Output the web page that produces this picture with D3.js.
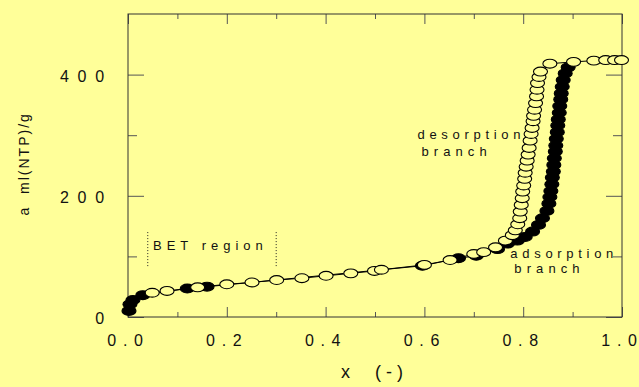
<!DOCTYPE html>
<html>
<head>
<meta charset="utf-8">
<script src="https://cdn.jsdelivr.net/npm/d3@7"></script>
<style>
  body { margin: 0; background: #ffff99; }
  svg { display: block; font-family: "Liberation Sans", Arial, sans-serif; }
</style>
</head>
<body>
<div id="chart"></div>
<script>
// adsorption branch (filled markers)
var adsX = [0.002, 0.004, 0.010, 0.030, 0.120, 0.160, 0.596, 0.669, 0.705, 0.748, 0.768, 0.788, 0.804, 0.819, 0.831,
            0.839, 0.848, 0.852, 0.854, 0.856, 0.858, 0.859, 0.861, 0.862, 0.863, 0.865, 0.866, 0.867, 0.869, 0.870,
            0.871, 0.873, 0.874, 0.876, 0.877, 0.879, 0.881, 0.885, 0.891];
var adsA = [10, 21, 28, 36, 47, 50, 84.5, 97, 101, 112, 121, 126, 132, 141, 152,
            163, 175, 187, 198, 208, 219, 230, 240, 251, 262, 273, 283, 294, 305, 316,
            326, 337, 348, 359, 369, 380, 391, 402, 412];

// desorption branch (open markers)
var desX = [0.049, 0.079, 0.141, 0.200, 0.251, 0.301, 0.352, 0.401, 0.451, 0.499, 0.513, 0.600, 0.652, 0.700,
            0.720, 0.744, 0.764, 0.778, 0.784, 0.789, 0.793, 0.794, 0.796, 0.798, 0.799, 0.801, 0.803, 0.804,
            0.806, 0.808, 0.810, 0.812, 0.814, 0.816, 0.818, 0.820, 0.821, 0.823, 0.825, 0.827, 0.828, 0.829,
            0.832, 0.835, 0.854, 0.902, 0.943, 0.967, 0.985, 0.999];
var desA = [40, 43, 49, 54, 57, 61, 64, 68, 72, 76, 78, 86, 94, 104,
            107, 115, 126, 135, 143, 153, 163, 174, 185, 196, 207, 217, 228, 238,
            248, 258, 268, 279, 291, 302, 312, 323, 332, 342, 353, 364, 375, 386,
            396, 405, 418, 421, 423, 424, 424, 424];

// ticks
var xMajor = [0, 0.2, 0.4, 0.6, 0.8, 1.0];
var xMinor = [0.1, 0.3, 0.5, 0.7, 0.9];
var yMajor = [0, 200, 400];
var yMinor = [100, 300];

// BET region marks (x range, a range)
var betX = [0.04, 0.30];
var betA = [84, 142];

var width = 639, height = 387;
var bg = "#ffff99";

var svg = d3.select("#chart").append("svg")
    .attr("width", width)
    .attr("height", height);

svg.append("rect").attr("width", width).attr("height", height).attr("fill", bg);

var x = d3.scaleLinear().domain([0, 1]).range([128, 622]);
var y = d3.scaleLinear().domain([0, 500]).range([317, 14]);

//minor ticks first, then major ones with labels
function minorAxis(axis, vals, size) {
    return axis.tickValues(vals).tickSizeInner(size).tickSizeOuter(0).tickFormat("");
}

svg.append("g").attr("transform", "translate(0," + y(0) + ")")
    .call(minorAxis(d3.axisBottom(x), xMinor, -5));
svg.append("g").attr("transform", "translate(0," + y(500) + ")")
    .call(minorAxis(d3.axisTop(x), xMinor, -5));
svg.append("g").attr("transform", "translate(" + x(0) + ",0)")
    .call(minorAxis(d3.axisLeft(y), yMinor, -9));
svg.append("g").attr("transform", "translate(" + x(1) + ",0)")
    .call(minorAxis(d3.axisRight(y), yMinor, -9));

var xb = svg.append("g").attr("class", "xaxis").attr("transform", "translate(0," + y(0) + ")")
    .call(d3.axisBottom(x).tickValues(xMajor).tickSizeInner(-10).tickSizeOuter(0)
        .tickPadding(17.5).tickFormat(d3.format(".1f")));
svg.append("g").attr("transform", "translate(0," + y(500) + ")")
    .call(d3.axisTop(x).tickValues(xMajor).tickSizeInner(-10).tickSizeOuter(0).tickFormat(""));

var yl = svg.append("g").attr("class", "yaxis").attr("transform", "translate(" + x(0) + ",0)")
    .call(d3.axisLeft(y).tickValues(yMajor).tickSizeInner(-16).tickSizeOuter(0)
        .tickPadding(15).tickFormat(d3.format("d")));
svg.append("g").attr("transform", "translate(" + x(1) + ",0)")
    .call(d3.axisRight(y).tickValues(yMajor).tickSizeInner(-16).tickSizeOuter(0).tickFormat(""));

svg.selectAll(".domain").remove();
svg.selectAll(".tick line").attr("stroke", "#555").attr("stroke-width", 1);

// spread the x labels out char by char (no trailing gap at the right edge)
xb.selectAll(".tick text")
    .attr("fill", "#111")
    .attr("x", -3.4)
    .style("font-size", "16px")
    .each(function () {
        var t = d3.select(this);
        var s = t.text();
        t.text(null);
        s.split("").forEach(function (c, i) {
            t.append("tspan").attr("dx", i ? 6.7 : 0).text(c);
        });
    });
yl.selectAll("text")
    .attr("fill", "#111")
    .attr("dy", "0.42em")
    .style("font-size", "16px")
    .style("letter-spacing", "8.8px");

// frame
svg.append("rect")
    .attr("x", x(0)).attr("y", y(500))
    .attr("width", x(1) - x(0)).attr("height", y(0) - y(500))
    .attr("fill", "none").attr("stroke", "#333").attr("stroke-width", 1);

// axis titles
svg.append("text")
    .attr("transform", "translate(28.5,215.5) rotate(-90)")
    .attr("fill", "#111")
    .style("font-size", "14px")
    .style("letter-spacing", "2px")
    .style("white-space", "pre")
    .text("a  ml(NTP)/g");

svg.append("text")
    .attr("x", 341).attr("y", 378)
    .attr("fill", "#111")
    .style("font-size", "18px")
    .style("letter-spacing", "5px")
    .style("white-space", "pre")
    .text("x  (-)");

// BET region
betX.forEach(function (bx) {
    svg.append("line")
        .attr("x1", x(bx)).attr("x2", x(bx))
        .attr("y1", y(betA[0])).attr("y2", y(betA[1]))
        .attr("stroke", "#222").attr("stroke-width", 1)
        .attr("stroke-dasharray", "1,2");
});

var labels = [
    {t: "BET region", x: 0.0507, a: 111, ls: 5},
    {t: "desorption", x: 0.586, a: 294, ls: 4.7},
    {t: "branch", x: 0.594, a: 266, ls: 5.1},
    {t: "adsorption", x: 0.774, a: 97.5, ls: 4.7},
    {t: "branch", x: 0.782, a: 73, ls: 5.1}
];
labels.forEach(function (l) {
    svg.append("text")
        .attr("x", x(l.x)).attr("y", y(l.a))
        .attr("fill", "#111")
        .style("font-size", "13px")
        .style("letter-spacing", l.ls + "px")
        .style("white-space", "pre")
        .text(l.t);
});

// series
var ads = adsX.map(function (d, i) { return [d, adsA[i]]; });
var des = desX.map(function (d, i) { return [d, desA[i]]; });

var line = d3.line()
    .x(function (d) { return x(d[0]); })
    .y(function (d) { return y(d[1]); });

function drawBranch(data, fill) {
    svg.append("path")
        .datum(data)
        .attr("d", line)
        .attr("fill", "none")
        .attr("stroke", "#000")
        .attr("stroke-width", 1);
    svg.append("g").selectAll("ellipse")
        .data(data)
        .enter().append("ellipse")
        .attr("cx", function (d) { return x(d[0]); })
        .attr("cy", function (d) { return y(d[1]); })
        .attr("rx", 7)
        .attr("ry", 4.4)
        .attr("fill", fill)
        .attr("stroke", "#000")
        .attr("stroke-width", 1.1);
}

drawBranch(ads, "#000");
drawBranch(des, bg);
</script>
</body>
</html>
